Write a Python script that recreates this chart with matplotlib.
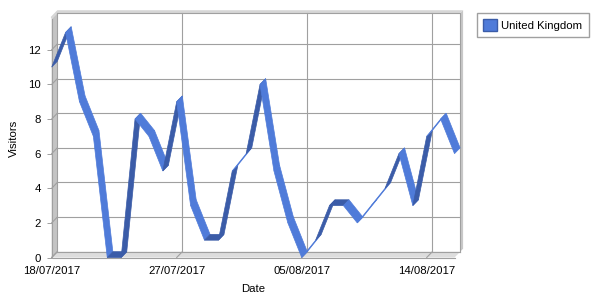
import numpy as np
import pandas as pd
import matplotlib
matplotlib.use('Agg')
import matplotlib.pyplot as plt
import matplotlib.dates as mdates
from matplotlib.patches import Polygon, Patch

# daily visitors, one value per day starting at start_date
start_date = '2017-07-18'
visitors = [11, 13, 9, 7, 0, 0, 8, 7, 5, 9, 3, 1, 1, 5, 6, 10, 5, 2, 0, 1,
            3, 3, 2, 3, 4, 6, 3, 7, 8, 6]
series_name = 'United Kingdom'
y_ticks = [0, 2, 4, 6, 8, 10, 12]
x_tick_step = 9

dates = pd.date_range(start_date, periods=len(visitors), freq='D')
tick_dates = dates[::x_tick_step]

LIGHT = '#4f7bd9'
DARK = '#3b5ca8'
GRID = '#a0a0a0'
DX, DY = 5.6, 5.8   # depth of the 3d box in pixels

plt.rcParams['font.family'] = ['Liberation Sans', 'DejaVu Sans']
plt.rcParams['font.size'] = 8.2

fig = plt.figure(figsize=(6, 3), dpi=100)
ax = fig.add_axes([51.7 / 600, 1 - 257.5 / 300, 402.8 / 600, 238.5 / 300])
for s in ax.spines.values():
    s.set_visible(False)
ax.patch.set_visible(False)

x = mdates.date2num(dates)
y = np.array(visitors, dtype=float)
ax.set_xlim(x[0], x[-1])
ax.set_ylim(0, 13.78)
x0, x1 = ax.get_xlim()
y0, y1 = ax.get_ylim()


def shift(px, py, ddx, ddy):
    # move data points by some pixels, return data coords
    pts = ax.transData.transform(np.column_stack([np.atleast_1d(px), np.atleast_1d(py)]))
    return ax.transData.inverted().transform(pts + [ddx, ddy])


def back(px, py):
    return shift(px, py, DX, DY)


def poly(pts, color, z, lw=0.0):
    p = Polygon(np.vstack(pts), closed=True, facecolor=color, edgecolor=color,
                lw=lw, zorder=z, clip_on=False)
    ax.add_patch(p)


# walls
poly([shift(x0, y0, 0, 0), shift(x0, y1, 0, 0), back(x0, y1), back(x0, y0)], '#c4c4c4', 1)
poly([shift(x0, y0, 0, 0), shift(x1, y0, 0, 0), back(x1, y0), back(x0, y0)], '#dddddd', 1)
poly([shift(x0, y1, 0, 0), back(x0, y1), back(x1, y1), shift(x1, y1, DX + 3, DY + 3),
      shift(x0, y1, DX, DY + 3), shift(x0, y1, -1, 2)], '#d6d6d6', 1)
poly([back(x1, y0), back(x1, y1), shift(x1, y1, DX + 3, DY + 3), shift(x1, y0, DX + 3, DY + 3),
      shift(x1, y0, 3, 3), shift(x1, y0, 0, 0)], '#c8c8c8', 1)

# grid on back wall + diagonals on left wall / floor
for v in y_ticks:
    b = back([x0, x1], [v, v])
    ax.plot(b[:, 0], b[:, 1], color=GRID, lw=0.8, zorder=2, clip_on=False)
    d = np.vstack([shift(x0, v, 0, 0), back(x0, v)])
    ax.plot(d[:, 0], d[:, 1], color=GRID, lw=0.8, zorder=2, clip_on=False)
for t in mdates.date2num(tick_dates):
    b = back([t, t], [y0, y1])
    ax.plot(b[:, 0], b[:, 1], color=GRID, lw=0.8, zorder=2, clip_on=False)
    d = np.vstack([shift(t, y0, 0, 0), back(t, y0)])
    ax.plot(d[:, 0], d[:, 1], color=GRID, lw=0.8, zorder=2, clip_on=False)

# box edges
b = back([x0, x1, x1], [y1, y1, y0])
ax.plot(b[:, 0], b[:, 1], color=GRID, lw=0.8, zorder=2, clip_on=False)
ax.plot([x0, x0, x1], [y1, y0, y0], color=GRID, lw=0.8, zorder=2, clip_on=False)

# ribbon
for i in range(len(x) - 1):
    dv = y[i + 1] - y[i]
    col = DARK if (dv == 0 or dv >= 2) else LIGHT
    f = np.column_stack([x[i:i + 2], y[i:i + 2]])
    bk = back(x[i:i + 2], y[i:i + 2])
    poly([f[0], f[1], bk[1], bk[0]], col, 3 + i * 0.01, lw=0.5)

ax.set_yticks(y_ticks)
ax.set_xticks(mdates.date2num(tick_dates))
ax.set_xticklabels([d.strftime('%d/%m/%Y') for d in tick_dates])
ax.tick_params(axis='y', length=3.6, width=0.7, color=GRID, pad=4)
ax.tick_params(axis='x', length=0, pad=6)
ax.set_ylabel('Visitors', labelpad=7)
ax.set_xlabel('Date', labelpad=6)

ax.legend(handles=[Patch(facecolor=LIGHT, edgecolor=DARK, label=series_name)],
          loc='upper left', bbox_to_anchor=(477 / 600, 1 - 13 / 300),
          bbox_transform=fig.transFigure, fancybox=False, edgecolor=GRID,
          framealpha=1, handlelength=1.2, handleheight=1.2, handletextpad=0.4,
          borderpad=0.55, borderaxespad=0)

fig.savefig('out.png', dpi=100)
